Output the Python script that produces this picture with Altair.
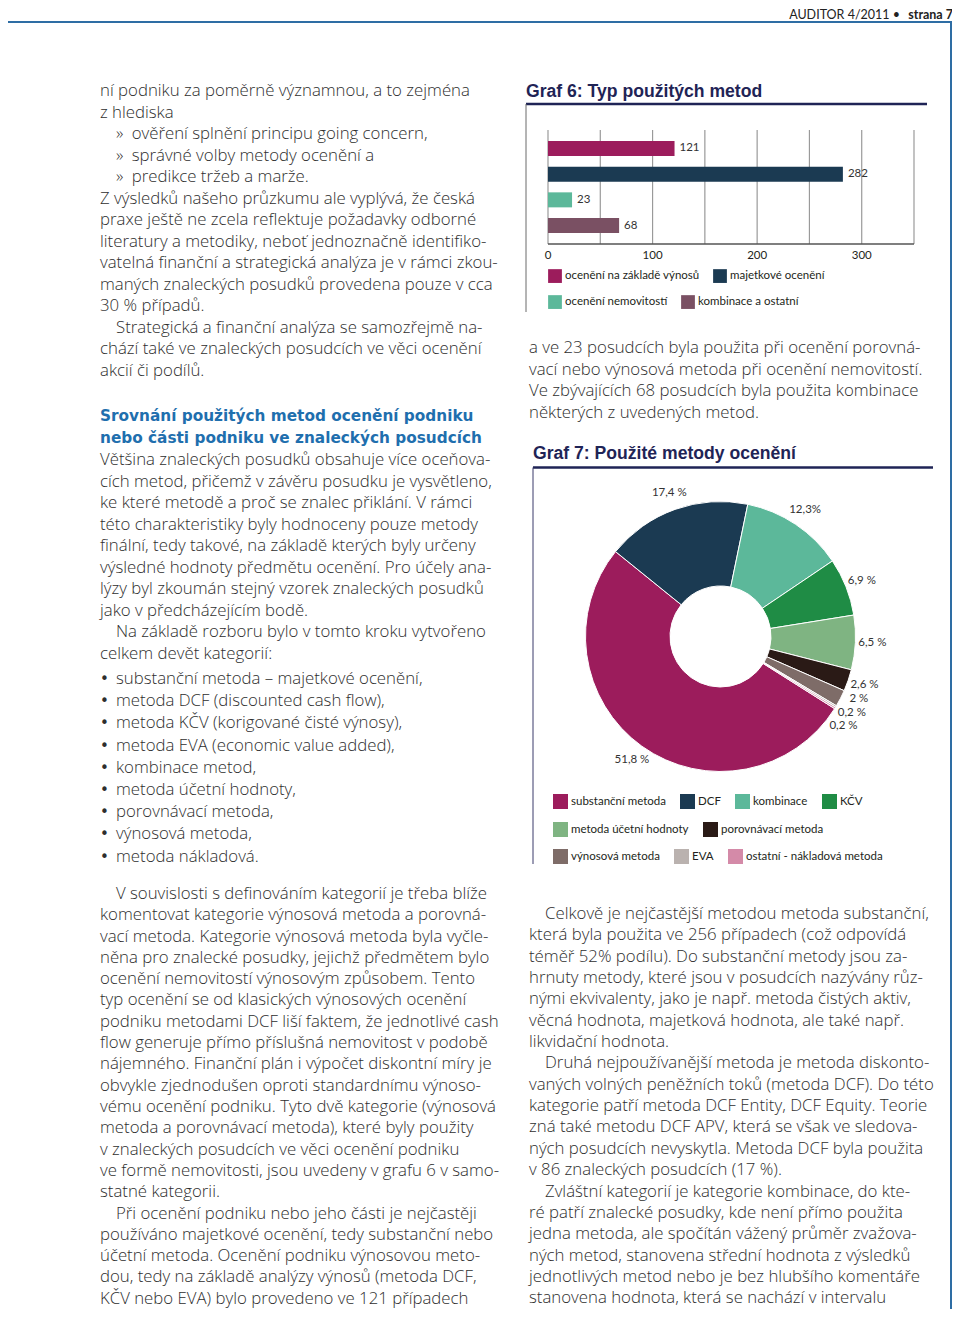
import math
import altair as alt
import pandas as pd

# ---------------------------------------------------------------- data
header_left = "AUDITOR 4/2011 •"
header_right = "strana 7"

graf6_title = "Graf 6: Typ použitých metod"
g6_categories = ["ocenění na základě výnosů", "majetkové ocenění",
                 "ocenění nemovitostí", "kombinace a ostatní"]
g6_values = [121, 282, 23, 68]
g6_colors = ["#9c1c5c", "#1b3a52", "#5cb89a", "#7a5063"]
g6_legend_rows = [g6_categories[:2], g6_categories[2:]]
g6_grid_ticks = [0, 50, 100, 150, 200, 250, 300, 350]
g6_tick_labels = [0, 100, 200, 300]

graf7_title = "Graf 7: Použité metody ocenění"
g7_categories = ["substanční metoda", "DCF", "kombinace", "KČV",
                 "metoda účetní hodnoty", "porovnávací metoda",
                 "výnosová metoda", "EVA", "ostatní - nákladová metoda"]
g7_shares = [51.8, 17.4, 12.3, 6.9, 6.5, 2.6, 2.0, 0.2, 0.2]
g7_labels = ["51,8 %", "17,4 %", "12,3%", "6,9 %", "6,5 %", "2,6 %",
             "2 %", "0,2 %", "0,2 %"]
g7_colors = ["#9c1c5c", "#1b3a52", "#5cb89a", "#1f8c45", "#7fb482",
             "#2a1a16", "#7e6c68", "#bab2af", "#d48aa8"]
g7_legend_rows = [
    ["substanční metoda", "DCF", "kombinace", "KČV"],
    ["metoda účetní hodnoty", "porovnávací metoda"],
    ["výnosová metoda", "EVA", "ostatní - nákladová metoda"],
]

# lines starting with "\t" are indented (paragraph start or list item)
col_a = [
    "ní podniku za poměrně významnou, a to zejména",
    "z hlediska",
    "\t»\u2002ověření splnění principu going concern,",
    "\t»\u2002správné volby metody ocenění a",
    "\t»\u2002predikce tržeb a marže.",
    "Z výsledků našeho průzkumu ale vyplývá, že česká",
    "praxe ještě ne zcela reflektuje požadavky odborné",
    "literatury a metodiky, neboť jednoznačně identifiko-",
    "vatelná finanční a strategická analýza je v rámci zkou-",
    "maných znaleckých posudků provedena pouze v cca",
    "30 % případů.",
    "\tStrategická a finanční analýza se samozřejmě na-",
    "chází také ve znaleckých posudcích ve věci ocenění",
    "akcií či podílů.",
]
heading = [
    "Srovnání použitých metod ocenění podniku",
    "nebo části podniku ve znaleckých posudcích",
]
col_b = [
    "Většina znaleckých posudků obsahuje více oceňova-",
    "cích metod, přičemž v závěru posudku je vysvětleno,",
    "ke které metodě a proč se znalec přiklání. V rámci",
    "této charakteristiky byly hodnoceny pouze metody",
    "finální, tedy takové, na základě kterých byly určeny",
    "výsledné hodnoty předmětu ocenění. Pro účely ana-",
    "lýzy byl zkoumán stejný vzorek znaleckých posudků",
    "jako v předcházejícím bodě.",
    "\tNa základě rozboru bylo v tomto kroku vytvořeno",
    "celkem devět kategorií:",
]
bullets = [
    "substanční metoda – majetkové ocenění,",
    "metoda DCF (discounted cash flow),",
    "metoda KČV (korigované čisté výnosy),",
    "metoda EVA (economic value added),",
    "kombinace metod,",
    "metoda účetní hodnoty,",
    "porovnávací metoda,",
    "výnosová metoda,",
    "metoda nákladová.",
]
col_c = [
    "\tV souvislosti s definováním kategorií je třeba blíže",
    "komentovat kategorie výnosová metoda a porovná-",
    "vací metoda. Kategorie výnosová metoda byla vyčle-",
    "něna pro znalecké posudky, jejichž předmětem bylo",
    "ocenění nemovitostí výnosovým způsobem. Tento",
    "typ ocenění se od klasických výnosových ocenění",
    "podniku metodami DCF liší faktem, že jednotlivé cash",
    "flow generuje přímo příslušná nemovitost v podobě",
    "nájemného. Finanční plán i výpočet diskontní míry je",
    "obvykle zjednodušen oproti standardnímu výnoso-",
    "vému ocenění podniku. Tyto dvě kategorie (výnosová",
    "metoda a porovnávací metoda), které byly použity",
    "v znaleckých posudcích ve věci ocenění podniku",
    "ve formě nemovitosti, jsou uvedeny v grafu 6 v samo-",
    "statné kategorii.",
    "\tPři ocenění podniku nebo jeho části je nejčastěji",
    "používáno majetkové ocenění, tedy substanční nebo",
    "účetní metoda. Ocenění podniku výnosovou meto-",
    "dou, tedy na základě analýzy výnosů (metoda DCF,",
    "KČV nebo EVA) bylo provedeno ve 121 případech",
]
col_d = [
    "a ve 23 posudcích byla použita při ocenění porovná-",
    "vací nebo výnosová metoda při ocenění nemovitostí.",
    "Ve zbývajících 68 posudcích byla použita kombinace",
    "některých z uvedených metod.",
]
col_e = [
    "\tCelkově je nejčastější metodou metoda substanční,",
    "která byla použita ve 256 případech (což odpovídá",
    "téměř 52% podílu). Do substanční metody jsou za-",
    "hrnuty metody, které jsou v posudcích nazývány růz-",
    "nými ekvivalenty, jako je např. metoda čistých aktiv,",
    "věcná hodnota, majetková hodnota, ale také např.",
    "likvidační hodnota.",
    "\tDruhá nejpoužívanější metoda je metoda diskonto-",
    "vaných volných peněžních toků (metoda DCF). Do této",
    "kategorie patří metoda DCF Entity, DCF Equity. Teorie",
    "zná také metodu DCF APV, která se však ve sledova-",
    "ných posudcích nevyskytla. Metoda DCF byla použita",
    "v 86 znaleckých posudcích (17 %).",
    "\tZvláštní kategorií je kategorie kombinace, do kte-",
    "ré patří znalecké posudky, kde není přímo použita",
    "jedna metoda, ale spočítán vážený průměr zvažova-",
    "ných metod, stanovena střední hodnota z výsledků",
    "jednotlivých metod nebo je bez hlubšího komentáře",
    "stanovena hodnota, která se nachází v intervalu",
]

# ---------------------------------------------------------------- layout / style
W, H = 944, 1301
BODY_FONT = "Open Sans"
BODY_SIZE = 16.8
BODY_WEIGHT = 300
BODY_COLOR = "#2e2e2e"
NAVY = "#1f2456"
BLUE = "#2e6da4"
CHART_FONT = "Lato"
INDENT = 16


def X(p):
    return p - 8


def Y(p):
    return p - 8


ONE = alt.Data(values=[{"k": 0}])


def rule(x1, y1, x2, y2, color, width):
    return alt.Chart(ONE).mark_rule(color=color, strokeWidth=width).encode(
        x=alt.value(X(x1)), x2=alt.value(X(x2)),
        y=alt.value(Y(y1)), y2=alt.value(Y(y2)))


def block(lines, x, y, size=BODY_SIZE, lh=21.5, font=BODY_FONT,
          weight=BODY_WEIGHT, color=BODY_COLOR, align="left"):
    return alt.Chart(alt.Data(values=[{"t": "\n".join(lines)}])).mark_text(
        align=align, baseline="alphabetic", font=font, fontSize=size,
        fontWeight=weight, color=color, lineBreak="\n", lineHeight=lh
    ).encode(x=alt.value(X(x)), y=alt.value(Y(y)), text="t:N")


def column(lines, x, y, lh, **kw):
    """Split a column into runs; indented lines are drawn as their own text."""
    out, run, run_start = [], [], 0
    for i, ln in enumerate(lines):
        if ln.startswith("\t"):
            if run:
                out.append(block(run, x, y + run_start * lh, lh=lh, **kw))
                run = []
            out.append(block([ln[1:]], x + INDENT, y + i * lh, lh=lh, **kw))
            run_start = i + 1
        else:
            if not run:
                run_start = i
            run.append(ln)
    if run:
        out.append(block(run, x, y + run_start * lh, lh=lh, **kw))
    return out


layers = []

# page header
layers.append(rule(8, 22, 955, 22, BLUE, 2))
layers.append(rule(951, 22, 951, 1317, BLUE, 2))
layers.append(block([header_right], 953, 19, size=12.5, weight=700,
                    font="Lato", color="#222222", align="right"))
layers.append(block([header_left], 900, 19, size=12.5, weight=400,
                    font="Lato", color="#222222", align="right"))

# body text
layers += column(col_a, 100, 96, 21.5)
layers.append(block(heading, 100, 421, size=15.3, lh=22, font="DejaVu Sans",
                    weight=700, color="#1f6fae"))
layers += column(col_b, 100, 465, 21.5)
layers.append(block(["•"] * len(bullets), 100, 684, lh=22.2,
                    font="DejaVu Sans", size=15, weight=400))
layers.append(block(bullets, 116, 684, lh=22.2))
layers += column(col_c, 100, 899, 21.3)
layers += column(col_d, 529, 353, 21.6)
layers += column(col_e, 529, 919, 21.35)

# ---------------------------------------------------------------- Graf 6
layers.append(block([graf6_title], 526, 97, size=17.6, font="Liberation Sans",
                    weight=700, color=NAVY))
layers.append(rule(526, 104, 927, 104, NAVY, 2.5))
layers.append(rule(526, 104, 526, 312, "#6b6b6b", 1))

xs = alt.Scale(domain=[0, 350], range=[X(548), X(914)], nice=False, zero=False)
ys = alt.Scale(domain=g6_categories, range=[Y(130), Y(244)],
               paddingInner=0.416, paddingOuter=0.426)

g6 = pd.DataFrame({"cat": g6_categories, "val": g6_values})
g6_color_of = dict(zip(g6_categories, g6_colors))

layers.append(
    alt.Chart(pd.DataFrame({"t": g6_grid_ticks})).mark_rule(
        color="#9a9a9a", strokeWidth=1.2).encode(
        x=alt.X("t:Q", scale=xs, axis=None),
        y=alt.value(Y(130)), y2=alt.value(Y(244))))
layers.append(
    alt.Chart(pd.DataFrame({"a": [g6_grid_ticks[0]], "b": [g6_grid_ticks[-1]]}))
    .mark_rule(color="#555555", strokeWidth=1.5).encode(
        x=alt.X("a:Q", scale=xs, axis=None), x2="b:Q", y=alt.value(Y(244))))
layers.append(
    alt.Chart(g6).mark_bar().encode(
        x=alt.X("val:Q", scale=xs, axis=None),
        y=alt.Y("cat:N", scale=ys, axis=None, sort=g6_categories),
        color=alt.Color("cat:N",
                        scale=alt.Scale(domain=g6_categories, range=g6_colors),
                        legend=None)))
layers.append(
    alt.Chart(g6).mark_text(align="left", baseline="middle", dx=5,
                            font=CHART_FONT, fontSize=11.5, color="#333333")
    .encode(x=alt.X("val:Q", scale=xs, axis=None),
            y=alt.Y("cat:N", scale=ys, axis=None, sort=g6_categories),
            text="val:Q"))
layers.append(
    alt.Chart(pd.DataFrame({"t": g6_tick_labels})).mark_text(
        baseline="alphabetic", font=CHART_FONT, fontSize=11.5, color="#231f20")
    .encode(x=alt.X("t:Q", scale=xs, axis=None), y=alt.value(Y(259)),
            text="t:Q"))


def legend_row(row, color_of, left, top, size, col_pad):
    return (
        alt.Chart(alt.Data(values=[{"c": c} for c in row]))
        .transform_filter("false")
        .mark_square()
        .encode(color=alt.Color(
            "c:N", title=None,
            scale=alt.Scale(domain=row, range=[color_of[c] for c in row]),
            legend=alt.Legend(
                orient="none", legendX=X(left), legendY=Y(top),
                direction="horizontal", columns=len(row),
                symbolType="square", symbolSize=size, symbolStrokeWidth=0,
                symbolOpacity=1, labelFont=CHART_FONT, labelFontSize=11.5,
                labelColor="#231f20", labelOffset=3, columnPadding=col_pad,
                padding=0, labelLimit=300)))
    )


for row, top in zip(g6_legend_rows, [269, 295]):
    layers.append(legend_row(row, g6_color_of, 548, top, 190, 13))

# ---------------------------------------------------------------- Graf 7
layers.append(block([graf7_title], 533, 459, size=17.6, font="Liberation Sans",
                    weight=700, color=NAVY))
layers.append(rule(533, 467.5, 933, 467.5, NAVY, 2.5))
layers.append(rule(533, 467.5, 533, 864, "#3a3a6a", 1))

total = sum(g7_shares)
start_angle = math.radians(122.3)
ts = alt.Scale(domain=[0, total], range=[start_angle, start_angle + 2 * math.pi])

# label anchors: slice mid-points, pushed apart symmetrically where crowded
mids, cum = [], 0.0
for s in g7_shares:
    mids.append(cum + s / 2)
    cum += s
label_pos = list(mids)
min_gap = 1.6
for _ in range(500):
    moved = False
    for i in range(1, len(label_pos)):
        d = label_pos[i] - label_pos[i - 1]
        if d < min_gap - 1e-9:
            shift = (min_gap - d) / 2
            label_pos[i - 1] -= shift
            label_pos[i] += shift
            moved = True
    if not moved:
        break

g7 = pd.DataFrame({"cat": g7_categories, "pct": g7_shares,
                   "idx": list(range(len(g7_shares))),
                   "lab": g7_labels, "pos": label_pos})
CX, CY = 720.5, 636.5

layers.append(
    alt.Chart(g7).mark_arc(innerRadius=50.5, outerRadius=135, stroke="white",
                           strokeWidth=1).encode(
        theta=alt.Theta("pct:Q", stack=True, scale=ts),
        color=alt.Color("cat:N", scale=alt.Scale(domain=g7_categories,
                                                 range=g7_colors), legend=None),
        order=alt.Order("idx:Q"),
        x=alt.value(X(CX)), y=alt.value(Y(CY))))
layers.append(
    alt.Chart(g7).mark_text(radius=152, font=CHART_FONT, fontSize=11.5,
                            color="#333333", baseline="middle", align="center")
    .encode(theta=alt.Theta("pos:Q", stack=None, scale=ts), text="lab:N",
            x=alt.value(X(CX)), y=alt.value(Y(CY))))

g7_color_of = dict(zip(g7_categories, g7_colors))
for row, top in zip(g7_legend_rows, [794, 822, 849]):
    layers.append(legend_row(row, g7_color_of, 553, top, 225, 14))

chart = (
    alt.layer(*layers)
    .resolve_scale(color="independent")
    .properties(width=W, height=H, padding=0,
                autosize=alt.AutoSizeParams(type="none"))
    .configure_view(stroke=None)
)

chart.save("out.html", embed_options={"renderer": "svg", "actions": False})
